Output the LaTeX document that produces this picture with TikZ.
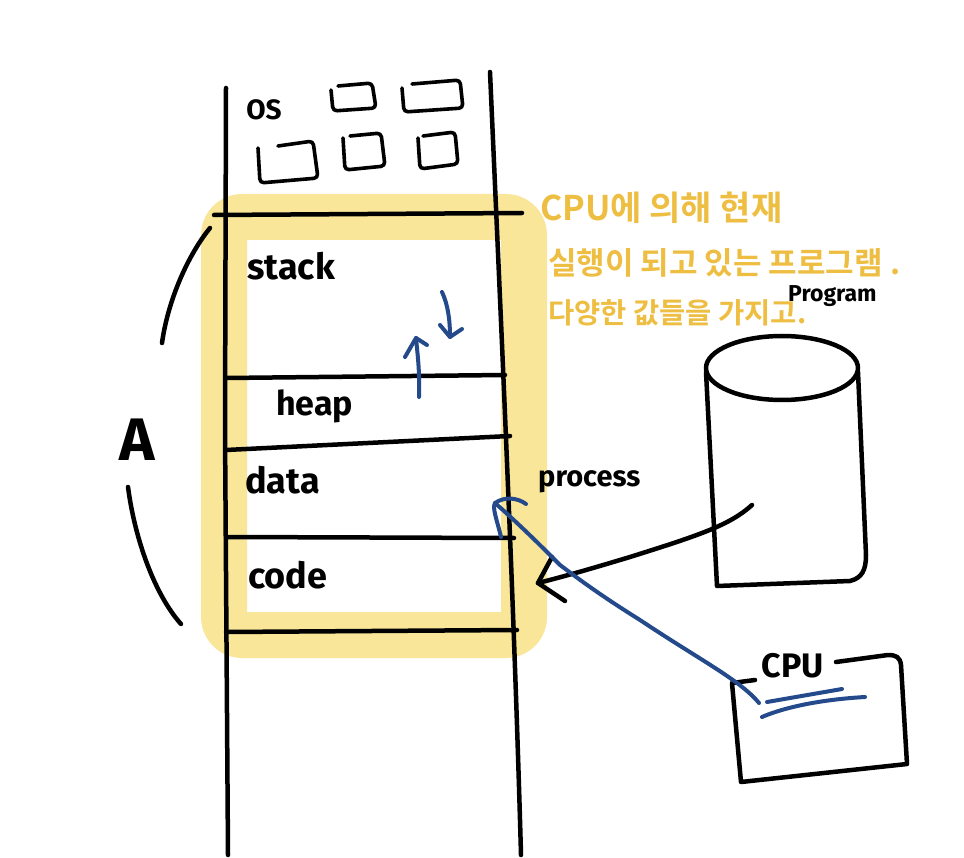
\documentclass[tikz,border=0pt]{standalone}
\usepackage{fontspec}
\setmainfont{Fira Sans}
\newfontfamily\krfont{Noto Sans CJK KR}[BoldFont={Noto Sans CJK KR Bold}]
\definecolor{hl}{RGB}{249,230,152}
\definecolor{penblue}{RGB}{36,74,140}
\definecolor{gold}{RGB}{238,190,66}
\begin{document}
\begin{tikzpicture}[x=1pt,y=-1pt,line cap=round,line join=round,
  ink/.style={line width=4.5pt,black},
  thinink/.style={line width=3.6pt,black},
  bluepen/.style={line width=4pt,penblue},
  lbl/.style={inner sep=0pt,anchor=west,font=\bfseries\fontsize{36}{38}\selectfont},
  krtext/.style={inner sep=0pt,anchor=west,text=gold,font=\krfont\bfseries\fontsize{31}{33}\selectfont}]
\fill[white] (0,0) rectangle (964,858);
\useasboundingbox (0,0) rectangle (964,858);

% yellow highlight ring
\draw[hl,line width=46pt,rounded corners=18pt] (224,217) rectangle (524,635);

% memory column
\draw[ink] (226,88) -- (225,430) -- (228,855);
\draw[ink] (490,72) .. controls (500,300) and (514,600) .. (521,855);
\draw[ink] (214,215) -- (522,213);
\draw[ink] (226,378) -- (505,375);
\draw[ink] (226,450) -- (510,436);
\draw[ink] (226,537) -- (514,538);
\draw[ink] (226,632) -- (517,630);

% OS boxes
\draw[thinink,rounded corners=4pt] (338,86) -- (372,83) -- (376,108) -- (333,111) -- (331,90);
\draw[thinink,rounded corners=4pt] (412,84) -- (460,80) -- (463,108) -- (404,112) -- (402,88);
\draw[thinink,rounded corners=4pt] (278,146) -- (313,141) -- (318,178) -- (260,183) -- (258,148);
\draw[thinink,rounded corners=4pt] (350,136) -- (381,133) -- (385,166) -- (345,170) -- (343,138);
\draw[thinink,rounded corners=4pt] (423,136) -- (455,132) -- (458,164) -- (420,169) -- (418,138);

% labels
\node[inner sep=0pt,font=\bfseries\fontsize{28}{30}\selectfont] (os) at (264,110) {OS};
\node[lbl] (stack) at (247,266) {stack};
\node[lbl,font=\bfseries\fontsize{34}{36}\selectfont] (heap) at (276,406) {heap};
\node[lbl] (data) at (245,480) {data};
\node[lbl] (code) at (248,575) {code};
\node[lbl,font=\bfseries\fontsize{29}{31}\selectfont] (process) at (538,482) {process};
\node[lbl,font=\bfseries\fontsize{23}{25}\selectfont] (program) at (788,296) {Program};
\node[inner sep=0pt,font=\bfseries\fontsize{34}{36}\selectfont] (cpulbl) at (793,666) {CPU};
\node[inner sep=0pt,font=\bfseries\fontsize{60}{62}\selectfont] (A) at (137,440) {A};

% Korean note
\node[krtext,font=\krfont\bfseries\fontsize{34}{36}\selectfont] (k1) at (540,208) {CPU에 의해 현재};
\node[krtext] (k2) at (548,263) {실행이 되고 있는 프로그램 .};
\node[krtext,font=\krfont\bfseries\fontsize{28.5}{30}\selectfont] (k3) at (548,313) {다양한 값들을 가지고.};

% A brackets
\draw[ink] (210,228) .. controls (188,255) and (168,300) .. (162,343);
\draw[ink] (128,487) .. controls (135,540) and (155,595) .. (181,624);

% heap/stack arrows
\coordinate (upS) at (419,397);
\coordinate (upT) at (416,338);
\draw[bluepen] (upS) .. controls (420,370) and (417,350) .. (upT);
\draw[bluepen] (405,357) -- (upT) -- (427,345);
\coordinate (dnS) at (442,292);
\coordinate (dnT) at (450,337);
\draw[bluepen] (dnS) .. controls (448,305) and (450,320) .. (dnT);
\draw[bluepen] (440,325) -- (dnT) -- (462,329);

% cylinder (program)
\draw[ink] (782,368) ellipse [x radius=76, y radius=32];
\draw[ink] (706,372) -- (717,586) -- (850,581) .. controls (862,578) and (866,570) .. (866,555) -- (858,372);

% arrow program -> process
\coordinate (pgS) at (752,505);
\coordinate (pgT) at (538,583);
\draw[ink] (pgS) .. controls (730,525) and (700,535) .. (630,557) .. controls (600,566) and (570,575) .. (pgT);
\draw[ink] (552,557) -- (pgT) -- (565,601);

% CPU box
\draw[ink] (755,680) -- (732,683) -- (741,782) -- (907,764) -- (901,665) .. controls (900,657) and (896,655) .. (888,655) -- (836,662);

% blue arrow cpu -> data
\coordinate (cpS) at (759,703);
\coordinate (cpT) at (495,503);
\draw[bluepen] (cpS) .. controls (740,680) and (700,660) .. (640,620) .. controls (600,595) and (580,580) .. (560,565) .. controls (540,545) and (520,525) .. (cpT);
\draw[bluepen] (501,537) .. controls (497,520) and (492,508) .. (cpT) .. controls (505,496) and (518,498) .. (526,504);

% CPU underlines
\draw[bluepen] (767,702) -- (842,689);
\draw[bluepen] (762,717) .. controls (790,705) and (830,699) .. (865,697);
\end{tikzpicture}
\end{document}
